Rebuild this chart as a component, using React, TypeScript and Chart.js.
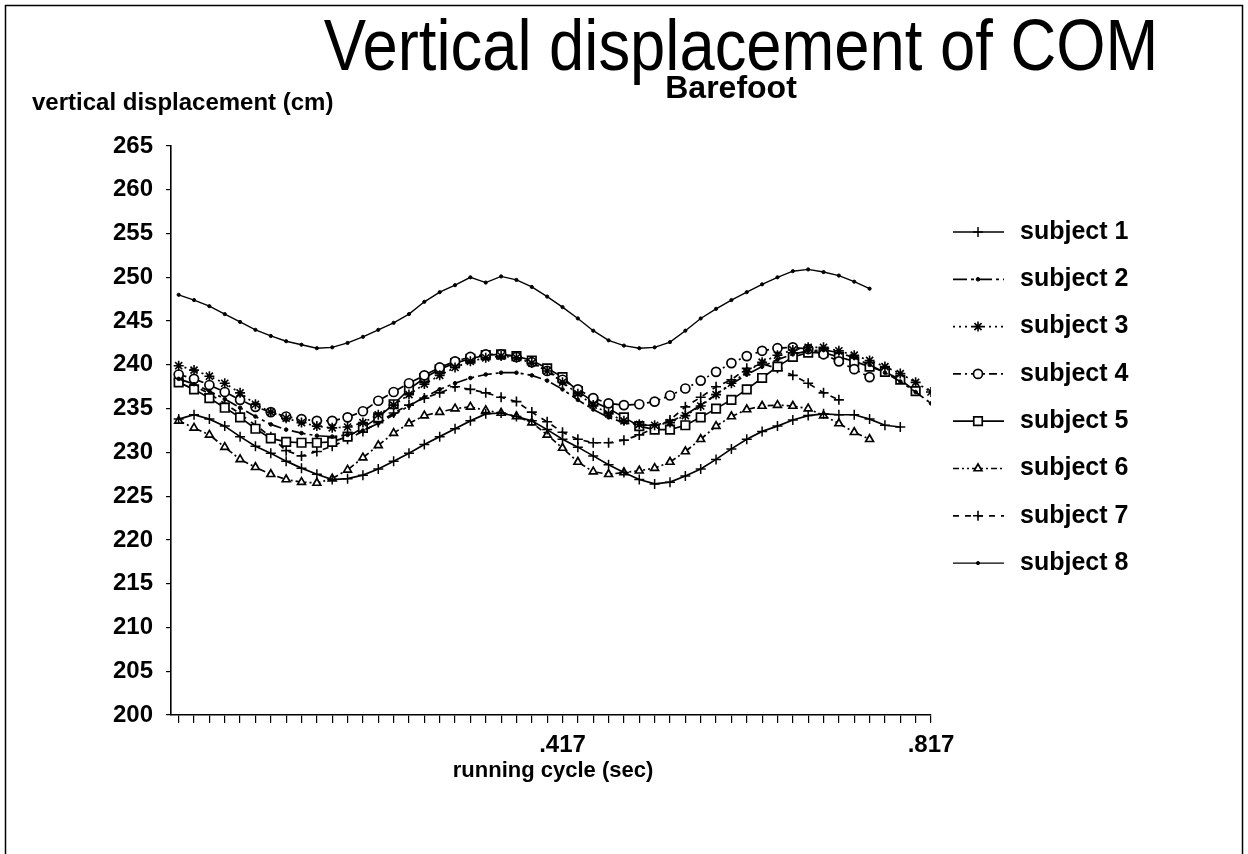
import React, { useEffect, useRef } from 'react';
import { Chart, registerables } from 'chart.js';

Chart.register(...registerables);

// frame index 0..49 (1/60 s per frame)
const xTickLabels: Record<number, string> = { 25: '.417', 49: '.817' };
const frameCount = 50;

const subject1 = [233.8, 234.3, 233.8, 233.0, 231.8, 230.7, 229.9, 229.0, 228.2, 227.5, 226.9, 227.0, 227.4, 228.1, 229.0, 229.9, 230.9, 231.8, 232.7, 233.6, 234.4, 234.5, 234.1, 233.6, 232.6, 231.5, 230.6, 229.6, 228.6, 227.7, 226.9, 226.4, 226.6, 227.3, 228.1, 229.2, 230.4, 231.5, 232.4, 233.0, 233.7, 234.2, 234.4, 234.3, 234.3, 233.8, 233.1, 232.9];
const subject2 = [238.4, 237.8, 237.0, 236.1, 235.1, 234.1, 233.2, 232.6, 232.2, 231.9, 231.8, 232.0, 232.5, 233.3, 234.3, 235.3, 236.3, 237.2, 237.9, 238.5, 238.9, 239.1, 239.1, 238.8, 238.2, 237.2, 236.0, 234.9, 234.0, 233.4, 233.1, 233.1, 233.5, 234.3, 235.4, 236.6, 237.8, 238.9, 239.8, 240.6, 241.2, 241.6, 241.7, 241.4, 240.8, 240.0, 239.1, 238.1, 236.9, 235.6];
const subject3 = [239.9, 239.4, 238.7, 237.9, 236.8, 235.5, 234.6, 233.9, 233.4, 233.0, 232.8, 232.9, 233.4, 234.3, 235.4, 236.6, 237.8, 238.8, 239.7, 240.4, 240.8, 241.0, 240.8, 240.2, 239.3, 238.0, 236.7, 235.4, 234.4, 233.6, 233.2, 233.1, 233.4, 234.2, 235.3, 236.6, 237.9, 239.2, 240.3, 241.1, 241.7, 242.0, 242.0, 241.6, 241.1, 240.5, 239.8, 239.0, 238.0, 236.9];
const subject4 = [238.9, 238.4, 237.7, 236.9, 236.0, 235.2, 234.6, 234.1, 233.8, 233.6, 233.6, 234.0, 234.7, 235.9, 236.9, 237.9, 238.8, 239.7, 240.4, 240.9, 241.2, 241.2, 240.9, 240.3, 239.3, 238.3, 237.2, 236.2, 235.6, 235.4, 235.5, 235.8, 236.5, 237.3, 238.2, 239.2, 240.2, 241.0, 241.6, 241.9, 242.0, 241.8, 241.2, 240.4, 239.5, 238.6];
const subject5 = [238.0, 237.2, 236.2, 235.1, 234.0, 232.7, 231.6, 231.2, 231.1, 231.1, 231.2, 231.8, 232.8, 234.0, 235.5, 237.2, 238.5, 239.5, 240.2, 240.7, 241.1, 241.2, 241.0, 240.5, 239.6, 238.6, 237.0, 235.8, 235.0, 234.0, 233.0, 232.6, 232.6, 233.1, 234.0, 235.0, 236.0, 237.2, 238.5, 239.8, 240.9, 241.4, 241.4, 240.9, 240.4, 239.8, 239.2, 238.3, 237.0];
const subject6 = [233.6, 232.8, 232.0, 230.6, 229.2, 228.3, 227.5, 226.9, 226.6, 226.5, 227.0, 228.0, 229.4, 230.8, 232.2, 233.3, 234.2, 234.6, 235.0, 235.2, 234.8, 234.5, 234.1, 233.4, 232.0, 230.5, 228.9, 227.8, 227.5, 227.7, 227.9, 228.2, 228.9, 230.1, 231.5, 233.0, 234.1, 234.9, 235.3, 235.4, 235.3, 235.0, 234.2, 233.3, 232.3, 231.5];
const subject7 = [238.3, 237.6, 236.7, 235.6, 234.4, 233.1, 231.8, 230.2, 229.6, 230.1, 230.7, 231.5, 232.4, 233.4, 234.5, 235.4, 236.2, 236.8, 237.5, 237.2, 236.8, 236.3, 235.8, 234.6, 233.5, 232.3, 231.5, 231.1, 231.1, 231.4, 232.0, 232.8, 233.7, 235.2, 236.3, 237.5, 238.3, 239.6, 240.1, 239.6, 238.8, 237.9, 236.8, 236.0];
const subject8 = [248.0, 247.4, 246.7, 245.8, 244.9, 244.0, 243.3, 242.7, 242.3, 241.9, 242.0, 242.5, 243.2, 244.0, 244.8, 245.8, 247.2, 248.3, 249.1, 250.0, 249.4, 250.1, 249.7, 248.9, 247.8, 246.6, 245.3, 243.9, 242.8, 242.2, 241.9, 242.0, 242.6, 243.9, 245.3, 246.4, 247.4, 248.3, 249.2, 250.0, 250.7, 250.9, 250.6, 250.2, 249.5, 248.7];

const seriesNames = ['subject 1', 'subject 2', 'subject 3', 'subject 4', 'subject 5', 'subject 6', 'subject 7', 'subject 8'];
const seriesValues = [subject1, subject2, subject3, subject4, subject5, subject6, subject7, subject8];

const FONT = '"Liberation Sans", Arial, Helvetica, sans-serif';

type Style = { dash: number[]; pointStyle: string; radius: number; fill: string; width: number; pbw: number };
const styles: Style[] = [
  { dash: [], pointStyle: 'cross', radius: 5, fill: '#000', width: 1.7, pbw: 1.5 },
  { dash: [14, 4, 3, 4], pointStyle: 'circle', radius: 1.8, fill: '#000', width: 1.7, pbw: 1 },
  { dash: [2, 4], pointStyle: 'star', radius: 5, fill: '#000', width: 1.7, pbw: 1.6 },
  { dash: [8, 4, 2, 4], pointStyle: 'circle', radius: 4.5, fill: '#fff', width: 1.7, pbw: 1.7 },
  { dash: [], pointStyle: 'rect', radius: 6, fill: '#fff', width: 1.7, pbw: 1.7 },
  { dash: [6, 3, 2, 3, 2, 3], pointStyle: 'triangle', radius: 4.5, fill: '#fff', width: 1.7, pbw: 1.7 },
  { dash: [6, 6], pointStyle: 'cross', radius: 5, fill: '#000', width: 1.7, pbw: 1.6 },
  { dash: [], pointStyle: 'circle', radius: 1.6, fill: '#000', width: 1.4, pbw: 1 },
];

function drawMarker(ctx: CanvasRenderingContext2D, style: string, x: number, y: number, r: number, fill: string, bw: number) {
  ctx.save();
  ctx.setLineDash([]);
  ctx.lineWidth = bw;
  ctx.strokeStyle = '#000';
  ctx.fillStyle = fill;
  ctx.beginPath();
  if (style === 'circle') {
    ctx.arc(x, y, r, 0, Math.PI * 2);
    ctx.closePath();
    ctx.fill();
    ctx.stroke();
  } else if (style === 'rect') {
    const s = r * Math.SQRT1_2;
    ctx.rect(x - s, y - s, 2 * s, 2 * s);
    ctx.fill();
    ctx.stroke();
  } else if (style === 'triangle') {
    let a = 0;
    ctx.moveTo(x + Math.sin(a) * r, y - Math.cos(a) * r);
    a += (2 * Math.PI) / 3;
    ctx.lineTo(x + Math.sin(a) * r, y - Math.cos(a) * r);
    a += (2 * Math.PI) / 3;
    ctx.lineTo(x + Math.sin(a) * r, y - Math.cos(a) * r);
    ctx.closePath();
    ctx.fill();
    ctx.stroke();
  } else if (style === 'cross' || style === 'star') {
    ctx.moveTo(x, y + r);
    ctx.lineTo(x, y - r);
    ctx.moveTo(x - r, y);
    ctx.lineTo(x + r, y);
    if (style === 'star') {
      const d = r * Math.SQRT1_2;
      ctx.moveTo(x - d, y - d);
      ctx.lineTo(x + d, y + d);
      ctx.moveTo(x - d, y + d);
      ctx.lineTo(x + d, y - d);
    }
    ctx.stroke();
  }
  ctx.restore();
}

const decorPlugin = {
  id: 'decor',
  afterDraw(chart: any) {
    const ctx: CanvasRenderingContext2D = chart.ctx;
    ctx.save();
    // frame
    ctx.strokeStyle = '#000';
    ctx.lineWidth = 1.5;
    ctx.strokeRect(5.5, 5.5, 1237, 860);
    ctx.fillStyle = '#000';
    // title (slightly condensed Helvetica look)
    ctx.save();
    ctx.translate(741, 70);
    ctx.scale(0.88, 1);
    ctx.textAlign = 'center';
    ctx.textBaseline = 'alphabetic';
    ctx.font = `72px ${FONT}`;
    ctx.fillText('Vertical displacement of COM', 0, 0);
    ctx.restore();
    ctx.font = `bold 32px ${FONT}`;
    ctx.textAlign = 'center';
    ctx.textBaseline = 'middle';
    ctx.fillText('Barefoot', 731, 89);
    // y title
    ctx.textAlign = 'left';
    ctx.font = `bold 24px ${FONT}`;
    ctx.fillText('vertical displacement (cm)', 32, 103);
    // x title
    ctx.textAlign = 'center';
    ctx.font = `bold 22px ${FONT}`;
    ctx.fillText('running cycle (sec)', 553, 771);
    // legend
    const x0 = 953, x1 = 1004, xm = 978;
    seriesNames.forEach((name, i) => {
      const st = styles[i];
      const y = 232 + i * 47.3;
      ctx.save();
      ctx.strokeStyle = '#000';
      ctx.lineWidth = st.width;
      ctx.setLineDash(st.dash);
      ctx.beginPath();
      ctx.moveTo(x0, y);
      ctx.lineTo(x1, y);
      ctx.stroke();
      ctx.restore();
      drawMarker(ctx, st.pointStyle, xm, y, st.radius, st.fill, st.pbw);
      ctx.fillStyle = '#000';
      ctx.textAlign = 'left';
      ctx.textBaseline = 'middle';
      ctx.font = `bold 25px ${FONT}`;
      ctx.fillText(name, 1020, y);
    });
    ctx.restore();
  },
};

export default function App() {
  const ref = useRef<HTMLCanvasElement | null>(null);
  useEffect(() => {
    document.body.style.margin = '0';
    document.body.style.background = '#fff';
    const canvas = ref.current;
    if (!canvas) return;
    const datasets = seriesValues.map((vals, i) => {
      const st = styles[i];
      return {
        label: seriesNames[i],
        data: vals.map((v, k) => ({ x: k, y: v })),
        borderColor: '#000',
        borderWidth: st.width,
        borderDash: st.dash,
        backgroundColor: st.fill,
        pointStyle: st.pointStyle,
        pointRadius: st.radius,
        pointBorderWidth: st.pbw,
        pointBorderColor: '#000',
        pointBackgroundColor: st.fill,
        tension: 0,
        fill: false,
      };
    });
    const chart = new Chart(canvas, {
      type: 'line',
      data: { datasets } as any,
      plugins: [decorPlugin],
      options: {
        animation: false,
        responsive: false,
        maintainAspectRatio: false,
        devicePixelRatio: 1,
        layout: { padding: { left: 0, top: 146, right: 317, bottom: 99 } },
        plugins: { legend: { display: false }, tooltip: { enabled: false }, title: { display: false } },
        scales: {
          x: {
            type: 'linear',
            min: -0.5,
            max: frameCount - 1,
            afterBuildTicks: (s: any) => {
              s.ticks = Array.from({ length: frameCount }, (_, k) => ({ value: k }));
            },
            afterFit: (s: any) => {
              s.height = 40;
            },
            grid: { display: true, drawOnChartArea: false, drawTicks: true, tickLength: 8, color: '#000', lineWidth: 1.2 },
            border: { display: true, color: '#000', width: 1.6 },
            ticks: {
              autoSkip: false,
              maxRotation: 0,
              minRotation: 0,
              padding: 8,
              color: '#000',
              font: { family: FONT, size: 24, weight: 'bold' },
              callback: (v: any) => xTickLabels[v as number] ?? '',
            },
          },
          y: {
            type: 'linear',
            min: 200,
            max: 265,
            afterFit: (s: any) => {
              s.width = 171;
            },
            grid: { display: true, drawOnChartArea: false, drawTicks: true, tickLength: 5, color: '#000', lineWidth: 1.2 },
            border: { display: true, color: '#000', width: 1.6 },
            ticks: {
              stepSize: 5,
              padding: 13,
              color: '#000',
              font: { family: FONT, size: 24, weight: 'bold' },
            },
          },
        },
      } as any,
    });
    return () => chart.destroy();
  }, []);
  return <canvas ref={ref} width={1248} height={854} style={{ display: 'block', width: 1248, height: 854 }} />;
}
